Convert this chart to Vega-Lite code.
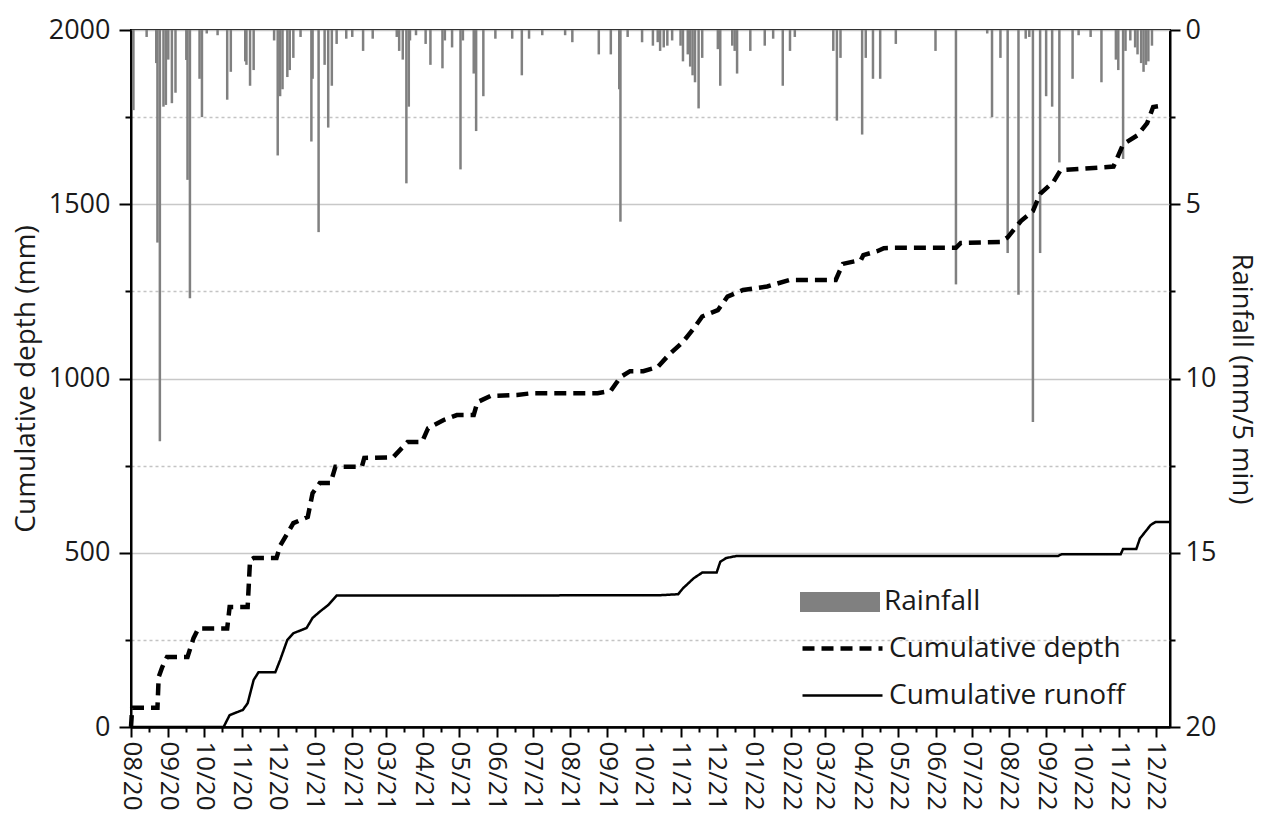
{
  "$schema": "https://vega.github.io/schema/vega-lite/v6.json",
  "width": 1039,
  "height": 697,
  "autosize": "none",
  "padding": {"left": 131, "top": 30, "right": 94, "bottom": 101},
  "background": "white",
  "config": {
    "font": "Open Sans",
    "view": {"stroke": "black", "strokeWidth": 2},
    "axis": {"labelColor": "#1a1a1a", "titleColor": "#1a1a1a", "domainColor": "black", "tickColor": "black", "domainWidth": 2, "tickWidth": 2, "labelFont": "Open Sans", "titleFont": "Open Sans", "titleFontWeight": "normal"},
    "legend": {"labelLimit": 0}
  },
  "datasets": {
    "lines": [
      {"date": "2020-08-01", "value": 0, "series": "Cumulative depth"},
      {"date": "2020-08-02", "value": 55, "series": "Cumulative depth"},
      {"date": "2020-08-23", "value": 55, "series": "Cumulative depth"},
      {"date": "2020-08-24", "value": 143, "series": "Cumulative depth"},
      {"date": "2020-08-27", "value": 172, "series": "Cumulative depth"},
      {"date": "2020-08-31", "value": 201, "series": "Cumulative depth"},
      {"date": "2020-09-17", "value": 201, "series": "Cumulative depth"},
      {"date": "2020-09-22", "value": 255, "series": "Cumulative depth"},
      {"date": "2020-09-26", "value": 283, "series": "Cumulative depth"},
      {"date": "2020-10-20", "value": 283, "series": "Cumulative depth"},
      {"date": "2020-10-22", "value": 344, "series": "Cumulative depth"},
      {"date": "2020-11-06", "value": 344, "series": "Cumulative depth"},
      {"date": "2020-11-08", "value": 479, "series": "Cumulative depth"},
      {"date": "2020-11-11", "value": 485, "series": "Cumulative depth"},
      {"date": "2020-11-30", "value": 485, "series": "Cumulative depth"},
      {"date": "2020-12-03", "value": 520, "series": "Cumulative depth"},
      {"date": "2020-12-14", "value": 585, "series": "Cumulative depth"},
      {"date": "2020-12-26", "value": 603, "series": "Cumulative depth"},
      {"date": "2020-12-30", "value": 671, "series": "Cumulative depth"},
      {"date": "2021-01-05", "value": 700, "series": "Cumulative depth"},
      {"date": "2021-01-14", "value": 700, "series": "Cumulative depth"},
      {"date": "2021-01-18", "value": 747, "series": "Cumulative depth"},
      {"date": "2021-02-09", "value": 747, "series": "Cumulative depth"},
      {"date": "2021-02-11", "value": 772, "series": "Cumulative depth"},
      {"date": "2021-03-07", "value": 774, "series": "Cumulative depth"},
      {"date": "2021-03-19", "value": 818, "series": "Cumulative depth"},
      {"date": "2021-03-31", "value": 818, "series": "Cumulative depth"},
      {"date": "2021-04-05", "value": 857, "series": "Cumulative depth"},
      {"date": "2021-04-18", "value": 881, "series": "Cumulative depth"},
      {"date": "2021-04-29", "value": 895, "series": "Cumulative depth"},
      {"date": "2021-05-13", "value": 895, "series": "Cumulative depth"},
      {"date": "2021-05-16", "value": 932, "series": "Cumulative depth"},
      {"date": "2021-05-27", "value": 950, "series": "Cumulative depth"},
      {"date": "2021-06-18", "value": 953, "series": "Cumulative depth"},
      {"date": "2021-07-01", "value": 958, "series": "Cumulative depth"},
      {"date": "2021-08-24", "value": 958, "series": "Cumulative depth"},
      {"date": "2021-09-04", "value": 965, "series": "Cumulative depth"},
      {"date": "2021-09-12", "value": 1004, "series": "Cumulative depth"},
      {"date": "2021-09-20", "value": 1021, "series": "Cumulative depth"},
      {"date": "2021-10-01", "value": 1021, "series": "Cumulative depth"},
      {"date": "2021-10-13", "value": 1033, "series": "Cumulative depth"},
      {"date": "2021-10-22", "value": 1067, "series": "Cumulative depth"},
      {"date": "2021-11-03", "value": 1105, "series": "Cumulative depth"},
      {"date": "2021-11-12", "value": 1144, "series": "Cumulative depth"},
      {"date": "2021-11-19", "value": 1178, "series": "Cumulative depth"},
      {"date": "2021-12-02", "value": 1196, "series": "Cumulative depth"},
      {"date": "2021-12-10", "value": 1235, "series": "Cumulative depth"},
      {"date": "2021-12-23", "value": 1254, "series": "Cumulative depth"},
      {"date": "2022-01-12", "value": 1264, "series": "Cumulative depth"},
      {"date": "2022-01-31", "value": 1283, "series": "Cumulative depth"},
      {"date": "2022-03-10", "value": 1283, "series": "Cumulative depth"},
      {"date": "2022-03-16", "value": 1329, "series": "Cumulative depth"},
      {"date": "2022-03-31", "value": 1340, "series": "Cumulative depth"},
      {"date": "2022-04-02", "value": 1354, "series": "Cumulative depth"},
      {"date": "2022-04-14", "value": 1366, "series": "Cumulative depth"},
      {"date": "2022-04-19", "value": 1374, "series": "Cumulative depth"},
      {"date": "2022-04-27", "value": 1375, "series": "Cumulative depth"},
      {"date": "2022-06-18", "value": 1375, "series": "Cumulative depth"},
      {"date": "2022-06-22", "value": 1389, "series": "Cumulative depth"},
      {"date": "2022-07-25", "value": 1392, "series": "Cumulative depth"},
      {"date": "2022-07-31", "value": 1405, "series": "Cumulative depth"},
      {"date": "2022-08-11", "value": 1452, "series": "Cumulative depth"},
      {"date": "2022-08-21", "value": 1480, "series": "Cumulative depth"},
      {"date": "2022-08-27", "value": 1530, "series": "Cumulative depth"},
      {"date": "2022-09-07", "value": 1564, "series": "Cumulative depth"},
      {"date": "2022-09-13", "value": 1598, "series": "Cumulative depth"},
      {"date": "2022-10-27", "value": 1608, "series": "Cumulative depth"},
      {"date": "2022-11-04", "value": 1672, "series": "Cumulative depth"},
      {"date": "2022-11-16", "value": 1698, "series": "Cumulative depth"},
      {"date": "2022-11-24", "value": 1733, "series": "Cumulative depth"},
      {"date": "2022-11-29", "value": 1779, "series": "Cumulative depth"},
      {"date": "2022-12-05", "value": 1782, "series": "Cumulative depth"},
      {"date": "2020-08-01", "value": 0, "series": "Cumulative runoff"},
      {"date": "2020-10-17", "value": 0, "series": "Cumulative runoff"},
      {"date": "2020-10-22", "value": 34, "series": "Cumulative runoff"},
      {"date": "2020-11-02", "value": 49, "series": "Cumulative runoff"},
      {"date": "2020-11-06", "value": 68, "series": "Cumulative runoff"},
      {"date": "2020-11-11", "value": 135, "series": "Cumulative runoff"},
      {"date": "2020-11-15", "value": 157, "series": "Cumulative runoff"},
      {"date": "2020-11-29", "value": 157, "series": "Cumulative runoff"},
      {"date": "2020-12-03", "value": 192, "series": "Cumulative runoff"},
      {"date": "2020-12-09", "value": 250, "series": "Cumulative runoff"},
      {"date": "2020-12-14", "value": 269, "series": "Cumulative runoff"},
      {"date": "2020-12-25", "value": 284, "series": "Cumulative runoff"},
      {"date": "2020-12-30", "value": 313, "series": "Cumulative runoff"},
      {"date": "2021-01-05", "value": 331, "series": "Cumulative runoff"},
      {"date": "2021-01-12", "value": 350, "series": "Cumulative runoff"},
      {"date": "2021-01-19", "value": 377, "series": "Cumulative runoff"},
      {"date": "2021-10-14", "value": 378, "series": "Cumulative runoff"},
      {"date": "2021-10-30", "value": 381, "series": "Cumulative runoff"},
      {"date": "2021-11-03", "value": 398, "series": "Cumulative runoff"},
      {"date": "2021-11-12", "value": 427, "series": "Cumulative runoff"},
      {"date": "2021-11-19", "value": 443, "series": "Cumulative runoff"},
      {"date": "2021-12-01", "value": 443, "series": "Cumulative runoff"},
      {"date": "2021-12-04", "value": 474, "series": "Cumulative runoff"},
      {"date": "2021-12-09", "value": 485, "series": "Cumulative runoff"},
      {"date": "2021-12-18", "value": 491, "series": "Cumulative runoff"},
      {"date": "2022-09-11", "value": 491, "series": "Cumulative runoff"},
      {"date": "2022-09-14", "value": 496, "series": "Cumulative runoff"},
      {"date": "2022-11-02", "value": 496, "series": "Cumulative runoff"},
      {"date": "2022-11-04", "value": 511, "series": "Cumulative runoff"},
      {"date": "2022-11-15", "value": 511, "series": "Cumulative runoff"},
      {"date": "2022-11-18", "value": 541, "series": "Cumulative runoff"},
      {"date": "2022-11-27", "value": 580, "series": "Cumulative runoff"},
      {"date": "2022-12-01", "value": 588, "series": "Cumulative runoff"},
      {"date": "2022-12-13", "value": 588, "series": "Cumulative runoff"}
    ],
    "rain": [
      {"date": "2020-08-03", "rain": 2.3},
      {"date": "2020-08-14", "rain": 0.2},
      {"date": "2020-08-22", "rain": 0.95},
      {"date": "2020-08-23", "rain": 6.1},
      {"date": "2020-08-25", "rain": 11.8},
      {"date": "2020-08-28", "rain": 2.2},
      {"date": "2020-08-30", "rain": 2.15},
      {"date": "2020-09-01", "rain": 0.85},
      {"date": "2020-09-04", "rain": 2.1},
      {"date": "2020-09-07", "rain": 1.8},
      {"date": "2020-09-16", "rain": 0.86},
      {"date": "2020-09-17", "rain": 4.3},
      {"date": "2020-09-19", "rain": 7.7},
      {"date": "2020-09-27", "rain": 1.4},
      {"date": "2020-09-29", "rain": 2.5},
      {"date": "2020-10-03", "rain": 0.1},
      {"date": "2020-10-12", "rain": 0.15},
      {"date": "2020-10-20", "rain": 2.0},
      {"date": "2020-10-23", "rain": 1.2},
      {"date": "2020-11-04", "rain": 0.9},
      {"date": "2020-11-05", "rain": 1.0},
      {"date": "2020-11-08", "rain": 1.6},
      {"date": "2020-11-11", "rain": 1.15},
      {"date": "2020-11-28", "rain": 0.3},
      {"date": "2020-12-01", "rain": 3.6},
      {"date": "2020-12-03", "rain": 1.9},
      {"date": "2020-12-05", "rain": 1.7},
      {"date": "2020-12-09", "rain": 1.35},
      {"date": "2020-12-11", "rain": 1.15},
      {"date": "2020-12-14", "rain": 0.8},
      {"date": "2020-12-20", "rain": 0.2},
      {"date": "2020-12-29", "rain": 3.2},
      {"date": "2020-12-30", "rain": 1.4},
      {"date": "2021-01-04", "rain": 5.8},
      {"date": "2021-01-09", "rain": 1.0},
      {"date": "2021-01-12", "rain": 2.8},
      {"date": "2021-01-15", "rain": 1.6},
      {"date": "2021-01-19", "rain": 0.4},
      {"date": "2021-01-27", "rain": 0.25},
      {"date": "2021-02-01", "rain": 0.2},
      {"date": "2021-02-10", "rain": 0.6},
      {"date": "2021-02-18", "rain": 0.25},
      {"date": "2021-03-10", "rain": 0.2},
      {"date": "2021-03-12", "rain": 0.6},
      {"date": "2021-03-15", "rain": 0.85},
      {"date": "2021-03-18", "rain": 4.4},
      {"date": "2021-03-20", "rain": 2.2},
      {"date": "2021-03-21", "rain": 0.3},
      {"date": "2021-03-26", "rain": 0.15},
      {"date": "2021-04-03", "rain": 0.4},
      {"date": "2021-04-07", "rain": 1.0},
      {"date": "2021-04-17", "rain": 1.1},
      {"date": "2021-04-19", "rain": 0.3},
      {"date": "2021-04-25", "rain": 0.5},
      {"date": "2021-05-02", "rain": 4.0},
      {"date": "2021-05-04", "rain": 0.3},
      {"date": "2021-05-13", "rain": 1.25},
      {"date": "2021-05-15", "rain": 2.9},
      {"date": "2021-05-21", "rain": 1.9},
      {"date": "2021-05-31", "rain": 0.25},
      {"date": "2021-06-14", "rain": 0.25},
      {"date": "2021-06-22", "rain": 1.3},
      {"date": "2021-06-28", "rain": 0.25},
      {"date": "2021-07-09", "rain": 0.15},
      {"date": "2021-07-28", "rain": 0.15},
      {"date": "2021-08-03", "rain": 0.35},
      {"date": "2021-08-25", "rain": 0.7},
      {"date": "2021-09-04", "rain": 0.7},
      {"date": "2021-09-11", "rain": 1.7},
      {"date": "2021-09-12", "rain": 5.5},
      {"date": "2021-09-18", "rain": 0.2},
      {"date": "2021-09-30", "rain": 0.35},
      {"date": "2021-10-09", "rain": 0.45},
      {"date": "2021-10-13", "rain": 0.35},
      {"date": "2021-10-15", "rain": 0.6},
      {"date": "2021-10-18", "rain": 0.5},
      {"date": "2021-10-21", "rain": 0.45},
      {"date": "2021-10-25", "rain": 0.3},
      {"date": "2021-11-01", "rain": 0.45},
      {"date": "2021-11-03", "rain": 0.9},
      {"date": "2021-11-07", "rain": 0.7},
      {"date": "2021-11-09", "rain": 1.05},
      {"date": "2021-11-11", "rain": 1.3},
      {"date": "2021-11-13", "rain": 1.5},
      {"date": "2021-11-16", "rain": 2.25},
      {"date": "2021-11-19", "rain": 0.8},
      {"date": "2021-12-02", "rain": 0.55},
      {"date": "2021-12-04", "rain": 1.6},
      {"date": "2021-12-14", "rain": 0.45},
      {"date": "2021-12-16", "rain": 0.6},
      {"date": "2021-12-18", "rain": 1.25},
      {"date": "2021-12-29", "rain": 0.6},
      {"date": "2022-01-10", "rain": 0.45},
      {"date": "2022-01-17", "rain": 0.25},
      {"date": "2022-01-25", "rain": 1.6},
      {"date": "2022-01-31", "rain": 0.6},
      {"date": "2022-02-04", "rain": 0.2},
      {"date": "2022-03-08", "rain": 0.6},
      {"date": "2022-03-11", "rain": 2.6},
      {"date": "2022-03-14", "rain": 0.8},
      {"date": "2022-04-01", "rain": 3.0},
      {"date": "2022-04-04", "rain": 0.8},
      {"date": "2022-04-10", "rain": 1.4},
      {"date": "2022-04-16", "rain": 1.4},
      {"date": "2022-04-29", "rain": 0.4},
      {"date": "2022-06-01", "rain": 0.6},
      {"date": "2022-06-18", "rain": 7.3},
      {"date": "2022-07-14", "rain": 0.1},
      {"date": "2022-07-18", "rain": 2.5},
      {"date": "2022-07-25", "rain": 0.8},
      {"date": "2022-07-31", "rain": 6.4},
      {"date": "2022-08-09", "rain": 7.6},
      {"date": "2022-08-15", "rain": 0.25},
      {"date": "2022-08-18", "rain": 0.2},
      {"date": "2022-08-21", "rain": 11.25},
      {"date": "2022-08-27", "rain": 6.4},
      {"date": "2022-09-01", "rain": 1.9},
      {"date": "2022-09-06", "rain": 2.2},
      {"date": "2022-09-12", "rain": 3.8},
      {"date": "2022-09-23", "rain": 1.4},
      {"date": "2022-09-28", "rain": 0.15},
      {"date": "2022-10-08", "rain": 0.2},
      {"date": "2022-10-17", "rain": 1.5},
      {"date": "2022-10-29", "rain": 0.85},
      {"date": "2022-10-31", "rain": 1.15},
      {"date": "2022-11-04", "rain": 3.7},
      {"date": "2022-11-06", "rain": 0.6},
      {"date": "2022-11-10", "rain": 0.3},
      {"date": "2022-11-14", "rain": 0.5},
      {"date": "2022-11-16", "rain": 0.7},
      {"date": "2022-11-19", "rain": 0.95},
      {"date": "2022-11-21", "rain": 1.2},
      {"date": "2022-11-23", "rain": 1.0},
      {"date": "2022-11-25", "rain": 0.9},
      {"date": "2022-11-28", "rain": 0.45}
    ]
  },
  "layer": [
    {
      "data": {"name": "rain"},
      "mark": {"type": "bar", "width": 2.5},
      "encoding": {
        "x": {
          "field": "date", "type": "temporal",
          "scale": {"type": "utc", "padding": 0, "domain": [1596240000000, 1670889600000]},
          "axis": {
            "orient": "bottom",
            "title": null,
            "values": [1598918400000, 1604188800000, 1609459200000, 1614556800000, 1619827200000, 1625097600000, 1630454400000, 1635724800000, 1640995200000, 1646092800000, 1651363200000, 1656633600000, 1661990400000, 1667260800000],
            "format": "%m/%y",
            "labelAngle": 90,
            "labelAlign": "left",
            "labelBaseline": "middle",
            "labelFontSize": 26,
            "labelPadding": 4,
            "labelOverlap": false,
            "labelBound": false,
            "labelFlush": false,
            "tickSize": 10,
            "grid": false
          }
        },
        "y": {
          "field": "rain", "type": "quantitative",
          "scale": {"domain": [0, 20], "reverse": true, "nice": false, "zero": true},
          "axis": {
            "orient": "right",
            "title": "Rainfall (mm/5 min)",
            "titleFontSize": 27.5,
            "titlePadding": 11,
            "values": [0, 2.5, 5, 7.5, 10, 12.5, 15, 17.5, 20],
            "labelExpr": "datum.value % 5 === 0 ? datum.label : ''",
            "labelFontSize": 27,
            "labelPadding": 5,
            "tickSize": {"condition": {"test": "datum.value % 5 === 0", "value": 10}, "value": 5},
            "grid": false
          }
        },
        "fill": {
          "datum": "Rainfall", "type": "nominal",
          "scale": {"domain": ["Rainfall"], "range": ["#808080"]},
          "legend": {
            "title": null,
            "orient": "none",
            "legendX": 669,
            "legendY": 532,
            "symbolType": "M-1,-0.25H1V0.25H-1Z",
            "symbolSize": 6400,
            "symbolStrokeWidth": 0,
            "symbolOpacity": 1,
            "labelFontSize": 28,
            "labelColor": "#1a1a1a",
            "labelOffset": 4,
            "padding": 0
          }
        }
      }
    },
    {
      "data": {"name": "lines"},
      "mark": {"type": "line", "color": "black", "strokeCap": "butt"},
      "encoding": {
        "x": {
          "field": "date", "type": "temporal",
          "axis": {
            "orient": "bottom",
            "title": null,
            "values": [1596240000000, 1597536000000, 1600214400000, 1601510400000, 1602806400000, 1605484800000, 1606780800000, 1608076800000, 1610755200000, 1612137600000, 1613433600000, 1615852800000, 1617235200000, 1618531200000, 1621123200000, 1622505600000, 1623801600000, 1626393600000, 1627776000000, 1629072000000, 1631750400000, 1633046400000, 1634342400000, 1637020800000, 1638316800000, 1639612800000, 1642291200000, 1643673600000, 1644969600000, 1647388800000, 1648771200000, 1650067200000, 1652659200000, 1654041600000, 1655337600000, 1657929600000, 1659312000000, 1660608000000, 1663286400000, 1664582400000, 1665878400000, 1668556800000, 1669852800000],
            "labelExpr": "utcdate(datum.value) === 1 ? utcFormat(datum.value, '%m/%y') : ''",
            "labelAngle": 90,
            "labelAlign": "left",
            "labelBaseline": "middle",
            "labelFontSize": 26,
            "labelPadding": 4,
            "labelOverlap": false,
            "labelBound": false,
            "labelFlush": false,
            "tickSize": {"condition": {"test": "utcdate(datum.value) === 1", "value": 10}, "value": 5},
            "grid": false
          }
        },
        "y": {
          "field": "value", "type": "quantitative",
          "scale": {"domain": [0, 2000], "nice": false},
          "axis": {
            "orient": "left",
            "title": "Cumulative depth (mm)",
            "titleFontSize": 28,
            "titlePadding": 8,
            "values": [0, 250, 500, 750, 1000, 1250, 1500, 1750, 2000],
            "labelExpr": "datum.value % 500 === 0 ? datum.label : ''",
            "format": "d",
            "labelFontSize": 27,
            "labelPadding": 9,
            "tickSize": {"condition": {"test": "datum.value % 500 === 0", "value": 12}, "value": 6},
            "grid": true,
            "gridColor": {"condition": {"test": "datum.value % 500 === 0", "value": "#c8c8c8"}, "value": "#c4c4c4"},
            "gridDash": {"condition": {"test": "datum.value % 500 === 0", "value": []}, "value": [3, 3]},
            "gridWidth": 1.5
          }
        },
        "strokeDash": {
          "field": "series", "type": "nominal",
          "scale": {"domain": ["Cumulative depth", "Cumulative runoff"], "range": [[12, 7], [1, 0]]},
          "legend": {
            "title": null,
            "orient": "none",
            "legendX": 669,
            "legendY": 596,
            "symbolType": "M-1,0H3",
            "symbolSize": 1600,
            "symbolFillColor": "transparent",
            "symbolStrokeColor": "black",
            "labelFontSize": 28,
            "labelColor": "#1a1a1a",
            "labelOffset": 44,
            "rowPadding": 11,
            "padding": 0
          }
        },
        "strokeWidth": {
          "field": "series", "type": "nominal",
          "scale": {"domain": ["Cumulative depth", "Cumulative runoff"], "range": [4.5, 2.5]}
        }
      }
    }
  ],
  "resolve": {"scale": {"y": "independent"}, "axis": {"x": "independent"}}
}
